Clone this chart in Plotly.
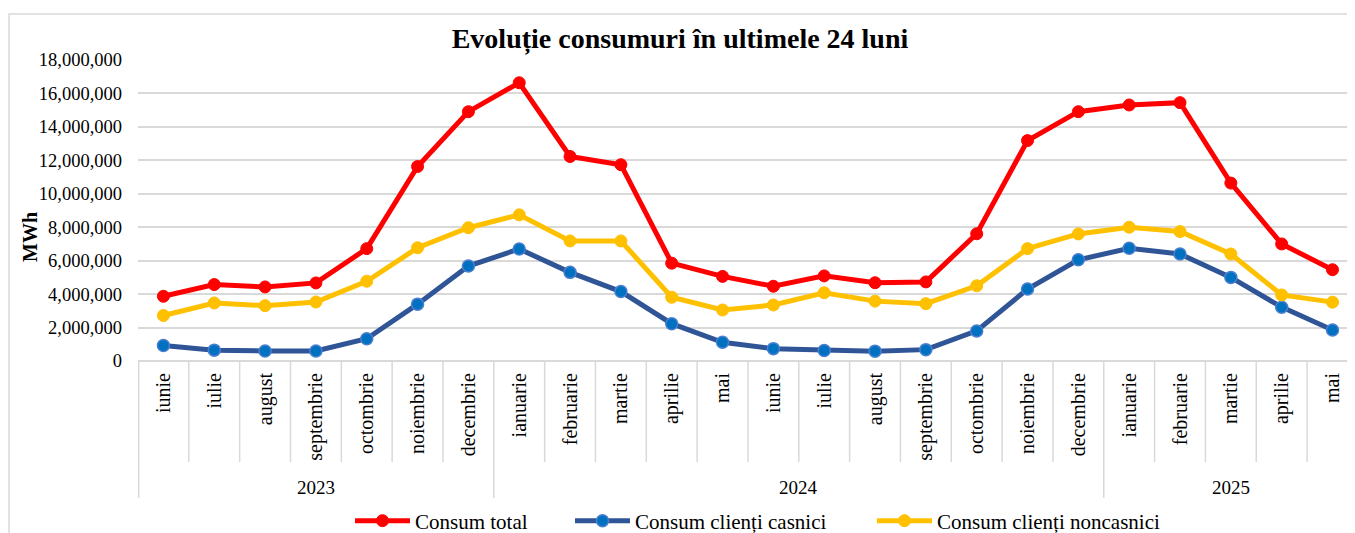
import plotly.graph_objects as go

# ---- data ----
months = ["iunie", "iulie", "august", "septembrie", "octombrie", "noiembrie", "decembrie",
          "ianuarie", "februarie", "martie", "aprilie", "mai",
          "iunie", "iulie", "august", "septembrie", "octombrie", "noiembrie", "decembrie",
          "ianuarie", "februarie", "martie", "aprilie", "mai"]
years = ["2023"] * 7 + ["2024"] * 12 + ["2025"] * 5

consum_total = [3870000, 4570000, 4430000, 4670000, 6720000, 11630000, 14910000,
                16640000, 12230000, 11740000, 5850000, 5060000,
                4470000, 5090000, 4680000, 4730000, 7610000, 13180000, 14910000,
                15310000, 15450000, 10640000, 7000000, 5460000]
consum_casnici = [930000, 650000, 600000, 600000, 1330000, 3400000, 5680000,
                  6700000, 5300000, 4150000, 2230000, 1120000,
                  740000, 630000, 590000, 680000, 1800000, 4300000, 6050000,
                  6740000, 6400000, 5000000, 3220000, 1850000]
consum_noncasnici = [2720000, 3470000, 3310000, 3530000, 4770000, 6770000, 7970000,
                     8740000, 7180000, 7180000, 3810000, 3050000,
                     3350000, 4080000, 3580000, 3430000, 4500000, 6720000, 7600000,
                     8000000, 7740000, 6400000, 3950000, 3520000]

series_names = ["Consum total", "Consum clienți casnici", "Consum clienți noncasnici"]
title_text = "Evoluție consumuri în ultimele 24 luni"
y_title = "MWh"

# ---- layout geometry (screen pixels; page has an 8px body margin) ----
OFF = 8
W, H = 1355 - OFF, 533 - OFF
PLOT_L, PLOT_T, PLOT_B = 138, 60, 361      # screen px
ML = PLOT_L - OFF
MT = PLOT_T - OFF
MB = H - (PLOT_B - OFF)
MR = 0
PW = W - ML - MR
PH = H - MT - MB
CAT_W = 50.83

def py(pix):
    """screen pixel y -> paper y"""
    return (PLOT_B - pix) / PH

def pxx(pix):
    """screen pixel x -> paper x"""
    return (pix - PLOT_L) / PW

FONT = "Liberation Serif"
GRID = "#D9D9D9"

x = list(range(len(months)))

fig = go.Figure()
fig.add_trace(go.Scatter(
    x=x, y=consum_total, name=series_names[0], mode="lines+markers", legend="legend",
    line=dict(color="#FF0000", width=5),
    marker=dict(color="#FF0000", size=12, line=dict(color="#FF0000", width=1))))
fig.add_trace(go.Scatter(
    x=x, y=consum_casnici, name=series_names[1], mode="lines+markers", legend="legend2",
    line=dict(color="#2F5597", width=5),
    marker=dict(color="#0070C0", size=12, line=dict(color="#4A7FD0", width=1.5))))
fig.add_trace(go.Scatter(
    x=x, y=consum_noncasnici, name=series_names[2], mode="lines+markers", legend="legend3",
    line=dict(color="#FFC000", width=5),
    marker=dict(color="#FFC000", size=12, line=dict(color="#FFC000", width=1))))

shapes = []
# month dividers
for i in range(1, len(months)):
    is_year = years[i] != years[i - 1]
    shapes.append(dict(type="line", xref="x", yref="paper",
                       x0=i - 0.5, x1=i - 0.5, y0=0, y1=py(498 if is_year else 462),
                       line=dict(color=GRID, width=1.5), layer="below"))
# left edge divider
shapes.append(dict(type="line", xref="paper", yref="paper", x0=0.0006, x1=0.0006,
                   y0=0, y1=py(498), line=dict(color=GRID, width=1.5)))
# outer border
shapes.append(dict(type="rect", xref="paper", yref="paper",
                   x0=pxx(9), x1=pxx(1365), y0=py(14), y1=py(545),
                   line=dict(color=GRID, width=1.5), fillcolor="rgba(0,0,0,0)"))

annotations = []
# year labels
groups = []
for i, yv in enumerate(years):
    if not groups or groups[-1][0] != yv:
        groups.append([yv, i, i])
    else:
        groups[-1][2] = i
for yv, a, b in groups:
    annotations.append(dict(text=yv, x=(a + b) / 2, xref="x", y=py(487), yref="paper",
                            showarrow=False, xanchor="center", yanchor="middle",
                            font=dict(family=FONT, size=19, color="black")))
annotations.append(dict(text="<b>" + y_title + "</b>", x=pxx(30), xref="paper", y=py(237), yref="paper",
                        textangle=-90, showarrow=False, xanchor="center", yanchor="middle",
                        font=dict(family=FONT, size=20, color="black")))

def legend_at(px_left):
    return dict(orientation="h", x=pxx(px_left), xanchor="left", y=py(521), yanchor="middle",
                font=dict(family=FONT, size=21, color="black"), itemwidth=55,
                bgcolor="rgba(0,0,0,0)", borderwidth=0)

fig.update_layout(
    width=W, height=H,
    margin=dict(l=ML, r=MR, t=MT, b=MB, pad=0, autoexpand=False),
    paper_bgcolor="white", plot_bgcolor="white",
    font=dict(family=FONT, size=18, color="black"),
    title=dict(text="<b>" + title_text + "</b>", x=(680 - OFF) / W, xanchor="center",
               y=1 - (38 - OFF) / H, yanchor="middle", font=dict(family=FONT, size=28, color="black")),
    xaxis=dict(range=[-0.5, -0.5 + PW / CAT_W], tickmode="array", tickvals=x, ticktext=months,
               tickangle=-90, showgrid=False, zeroline=False, showline=False,
               ticks="", ticklabelstandoff=7, tickfont=dict(family=FONT, size=20, color="black"),
               fixedrange=True),
    yaxis=dict(range=[0, 18000000], dtick=2000000, tickformat=",d", showgrid=True,
               gridcolor=GRID, gridwidth=1.5, zeroline=True, zerolinecolor=GRID, zerolinewidth=1.5,
               showline=False, ticks="", ticklabelstandoff=15,
               tickfont=dict(family=FONT, size=18.5, color="black")),
    legend=legend_at(350),
    legend2=legend_at(570),
    legend3=legend_at(872),
    shapes=shapes, annotations=annotations, showlegend=True,
)

fig.write_html("out.html")
